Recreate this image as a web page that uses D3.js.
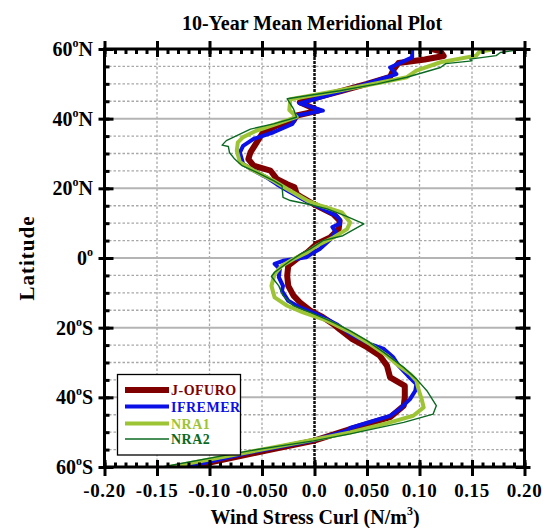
<!DOCTYPE html>
<html><head><meta charset="utf-8">
<script src="https://cdn.jsdelivr.net/npm/d3@7"></script>
<style>
body{margin:0;background:#fff;}
svg{display:block;}
text{font-family:"Liberation Serif","Times New Roman",serif;font-weight:bold;}
</style></head>
<body><svg id="c" width="547" height="528"></svg>
<script>
// ---- data ----
const title = "10-Year Mean Meridional Plot";
const seriesNames = ["J-OFURO", "IFREMER", "NRA1", "NRA2"];
const seriesColors = ["#800000", "#0a10e6", "#9dc435", "#0b6a22"];
const seriesWidths = [6, 4, 4, 1.4];
const xTicks = [-0.2, -0.15, -0.1, -0.05, 0, 0.05, 0.1, 0.15, 0.2];
const xTickLabels = ["-0.20", "-0.15", "-0.10", "-0.050", "0.0", "0.050", "0.10", "0.15", "0.20"];
const yTicks = [60, 40, 20, 0, -20, -40, -60];
const yTickNums = ["60", "40", "20", "0", "20", "40", "60"];
const yTickHemis = ["N", "N", "N", "", "S", "S", "S"];
// [latitude, wind stress curl]
const jofuro = [[60,0.112],[59.3,0.12],[58,0.123],[57,0.105],[56,0.08],[54,0.075],[52,0.072],[50,0.05],[48,0.026],[46,0.001],[44.7,-0.014],[42.3,0.004],[40.9,-0.017],[39.4,-0.02],[38,-0.036],[36.1,-0.049],[33.2,-0.055],[30.3,-0.061],[28.4,-0.063],[26.5,-0.058],[25.1,-0.042],[22.7,-0.036],[21.2,-0.026],[20.3,-0.019],[18.4,-0.017],[17.4,-0.012],[15.5,-0.001],[12.6,0.018],[10.7,0.024],[8.3,0.023],[5.9,0.015],[4,0.002],[1.6,-0.007],[-0.3,-0.017],[-2.2,-0.025],[-5.1,-0.026],[-8,-0.025],[-10.8,-0.02],[-12.7,-0.014],[-15.1,-0.004],[-17,0.008],[-19,0.018],[-20.5,0.024],[-23.3,0.036],[-25.6,0.05],[-28,0.062],[-30.9,0.069],[-34.3,0.072],[-36.7,0.086],[-40,0.086],[-42.4,0.085],[-45.7,0.072],[-49.1,0.034],[-52.5,-0.001],[-55.3,-0.046],[-58.7,-0.1],[-60,-0.12]];
const ifremer = [[60,0.093],[57.6,0.093],[54.7,0.072],[52.8,0.078],[50,0.049],[48,0.027],[46,0.005],[44.4,-0.014],[42.3,0.008],[40.9,-0.017],[38.5,-0.021],[36.1,-0.039],[34.2,-0.058],[32.2,-0.068],[30.3,-0.071],[27,-0.068],[25.1,-0.058],[23.2,-0.046],[21.2,-0.036],[18.9,-0.023],[16.9,-0.011],[15,0.002],[12.1,0.021],[11,0.024],[9.8,0.024],[8.9,0.017],[7.5,0.02],[5.3,0.015],[2.6,0.005],[1,-0.004],[0.2,-0.008],[-0.8,-0.03],[-1.7,-0.038],[-3.2,-0.033],[-5.5,-0.034],[-8,-0.03],[-9.4,-0.031],[-12.3,-0.025],[-14.2,-0.014],[-16.1,0.002],[-19,0.021],[-21.8,0.034],[-24.7,0.053],[-26.1,0.066],[-28.5,0.075],[-30.9,0.08],[-33.8,0.089],[-36.2,0.097],[-38.1,0.096],[-40.5,0.091],[-43.4,0.081],[-45.3,0.072],[-48.8,0.034],[-49.6,0.031],[-52.5,-0.003],[-55.8,-0.061],[-59.1,-0.109],[-60,-0.128]];
const nra1 = [[60,0.172],[59.2,0.157],[58.1,0.154],[56.2,0.12],[53.8,0.097],[51.9,0.088],[50,0.057],[48,0.022],[45.6,-0.023],[42.5,-0.024],[40.5,-0.017],[38.5,-0.036],[36.6,-0.055],[34.7,-0.068],[33.2,-0.073],[30.8,-0.074],[27.5,-0.071],[25.1,-0.058],[22.2,-0.039],[19.8,-0.026],[16.5,-0.007],[15,0.006],[13.1,0.026],[10.2,0.034],[8.3,0.031],[5.9,0.018],[3.5,0.002],[1.6,-0.007],[-0.3,-0.02],[-2.2,-0.031],[-4.6,-0.038],[-8,-0.041],[-11.3,-0.038],[-13.7,-0.026],[-15.6,-0.011],[-18,0.012],[-21.3,0.034],[-24.7,0.053],[-28,0.069],[-30.4,0.078],[-33.3,0.091],[-35.2,0.097],[-37.6,0.099],[-40.5,0.102],[-42.9,0.104],[-45.3,0.094],[-47.2,0.072],[-50.1,0.034],[-52.2,-0.001],[-55.6,-0.061],[-60,-0.138]];
const nra2 = [[60,0.2],[59,0.177],[58.1,0.173],[57.1,0.148],[56.6,0.15],[55.8,0.125],[54.7,0.12],[51.9,0.088],[50,0.06],[48,0.024],[45.7,-0.026],[42.8,-0.02],[40.4,-0.017],[38.5,-0.039],[37,-0.061],[35.1,-0.074],[33.7,-0.084],[32.4,-0.088],[32,-0.082],[30.3,-0.081],[28.4,-0.076],[26.5,-0.069],[24.6,-0.055],[22.2,-0.039],[20.8,-0.031],[17.4,-0.03],[16.5,-0.023],[15.5,-0.007],[14.1,0.012],[12,0.03],[9.8,0.047],[6.4,0.027],[5,0.008],[2.6,-0.004],[1.2,-0.013],[-0.8,-0.023],[-4.1,-0.038],[-5.3,-0.041],[-8,-0.034],[-10.8,-0.03],[-13.7,-0.02],[-15.6,-0.004],[-18.5,0.018],[-20.9,0.034],[-23.7,0.05],[-27.1,0.066],[-31.4,0.085],[-34.7,0.097],[-38.1,0.107],[-42.4,0.116],[-44.8,0.113],[-47.2,0.085],[-50.5,0.034],[-52.5,-0.001],[-55.3,-0.061],[-60,-0.145]];
const allSeries = [jofuro, ifremer, nra1, nra2];

// ---- layout ----
const L = 104.5, R = 524.5, T = 49, B = 467;
const svg = d3.select("#c");
const x = d3.scaleLinear().domain([-0.2, 0.2]).range([L, R]);
const y = d3.scaleLinear().domain([-60, 60]).range([B, T]);

// grid
const minorX = d3.range(-0.15, 0.2001, 0.05).filter(v => Math.abs(v) > 1e-9);
const gridY = d3.range(-55, 56, 5);
const g = svg.append("g");
g.selectAll("line.vg").data(minorX).join("line")
  .attr("x1", d => x(d)).attr("x2", d => x(d)).attr("y1", T).attr("y2", B)
  .attr("stroke", "#a8a8a8").attr("stroke-width", 1.3).attr("stroke-dasharray", "2.5,2");
g.selectAll("line.hg").data(gridY).join("line")
  .attr("x1", L).attr("x2", R).attr("y1", d => y(d)).attr("y2", d => y(d))
  .attr("stroke", d => d % 20 === 0 ? "#b4b4b4" : "#a8a8a8")
  .attr("stroke-width", d => d % 20 === 0 ? 2 : 1.3)
  .attr("stroke-dasharray", d => d % 20 === 0 ? null : "2.5,2");
// zero line
g.append("line").attr("x1", x(0)).attr("x2", x(0)).attr("y1", T).attr("y2", B)
  .attr("stroke", "#111").attr("stroke-width", 2.5).attr("stroke-dasharray", "3,1");

// curves
svg.append("clipPath").attr("id", "clip").append("rect")
  .attr("x", L).attr("y", T).attr("width", R - L).attr("height", B - T);
const line = d3.line().x(d => x(d[1])).y(d => y(d[0]));
const cg = svg.append("g").attr("clip-path", "url(#clip)");
allSeries.forEach((s, i) => {
  cg.append("path").datum(s).attr("d", line).attr("fill", "none")
    .attr("stroke", seriesColors[i]).attr("stroke-width", seriesWidths[i])
    .attr("stroke-linejoin", "round");
});

// axes (ticks)
function styleAxis(sel) {
  sel.select(".domain").remove();
  sel.selectAll("line").attr("stroke", "#000").attr("stroke-width", 3);
  sel.selectAll("text").remove();
}
const minorXT = d3.range(-0.2, 0.2001, 0.01);
const minorYT = d3.range(-60, 61, 5);
// bottom
svg.append("g").attr("transform", `translate(0,${B})`).call(d3.axisBottom(x).tickValues(xTicks).tickSize(9)).call(styleAxis);
svg.append("g").attr("transform", `translate(0,${B})`).call(d3.axisTop(x).tickValues(xTicks).tickSize(7)).call(styleAxis);
svg.append("g").attr("transform", `translate(0,${B})`).call(d3.axisTop(x).tickValues(minorXT).tickSize(4.5)).call(styleAxis);
// top
svg.append("g").attr("transform", `translate(0,${T})`).call(d3.axisTop(x).tickValues(xTicks).tickSize(8)).call(styleAxis);
svg.append("g").attr("transform", `translate(0,${T})`).call(d3.axisBottom(x).tickValues(xTicks).tickSize(8)).call(styleAxis);
svg.append("g").attr("transform", `translate(0,${T})`).call(d3.axisBottom(x).tickValues(minorXT).tickSize(5)).call(styleAxis);
// left
svg.append("g").attr("transform", `translate(${L},0)`).call(d3.axisLeft(y).tickValues(yTicks).tickSize(6)).call(styleAxis);
svg.append("g").attr("transform", `translate(${L},0)`).call(d3.axisRight(y).tickValues(yTicks).tickSize(9)).call(styleAxis);
svg.append("g").attr("transform", `translate(${L},0)`).call(d3.axisRight(y).tickValues(minorYT).tickSize(5)).call(styleAxis);
// right
svg.append("g").attr("transform", `translate(${R},0)`).call(d3.axisRight(y).tickValues(yTicks).tickSize(6)).call(styleAxis);
svg.append("g").attr("transform", `translate(${R},0)`).call(d3.axisLeft(y).tickValues(yTicks).tickSize(9)).call(styleAxis);
svg.append("g").attr("transform", `translate(${R},0)`).call(d3.axisLeft(y).tickValues(minorYT).tickSize(5)).call(styleAxis);

// frame
svg.append("rect").attr("x", L).attr("y", T).attr("width", R - L).attr("height", B - T)
  .attr("fill", "none").attr("stroke", "#000").attr("stroke-width", 3);

// tick labels
svg.append("g").selectAll("text").data(xTicks).join("text")
  .attr("x", d => x(d)).attr("y", 497).attr("text-anchor", "middle")
  .attr("font-size", 19).attr("letter-spacing", 0.6).text((d, i) => xTickLabels[i]);
const yl = svg.append("g").selectAll("text").data(yTicks).join("text")
  .attr("x", 93).attr("y", d => y(d) + 7).attr("text-anchor", "end").attr("font-size", 20);
yl.each(function(d, i) {
  const t = d3.select(this);
  t.append("tspan").text(yTickNums[i]);
  t.append("tspan").attr("font-size", 12).attr("dy", -9).text("o");
  if (yTickHemis[i]) t.append("tspan").attr("dy", 9).text(yTickHemis[i]);
});

// titles
svg.append("text").attr("x", 312).attr("y", 30).attr("text-anchor", "middle")
  .attr("font-size", 20).text(title);
const xt = svg.append("text").attr("x", 315).attr("y", 524).attr("text-anchor", "middle").attr("font-size", 20);
xt.append("tspan").text("Wind Stress Curl (N/m");
xt.append("tspan").attr("font-size", 12).attr("dy", -9).text("3");
xt.append("tspan").attr("dy", 9).text(")");
svg.append("text").attr("transform", "translate(34,258) rotate(-90)").attr("text-anchor", "middle")
  .attr("font-size", 21).attr("letter-spacing", 1).text("Latitude");

// legend
const lg = svg.append("g");
lg.append("rect").attr("x", 117.5).attr("y", 374.5).attr("width", 123).attr("height", 80.5)
  .attr("fill", "#fff").attr("stroke", "#000").attr("stroke-width", 1.3);
const legY = [390, 406.5, 423.5, 439];
seriesNames.forEach((n, i) => {
  lg.append("line").attr("x1", 125).attr("x2", 169).attr("y1", legY[i]).attr("y2", legY[i])
    .attr("stroke", seriesColors[i]).attr("stroke-width", seriesWidths[i]);
  lg.append("text").attr("x", 171).attr("y", legY[i] + 5).attr("font-size", 14)
    .attr("letter-spacing", 0.5).attr("fill", seriesColors[i]).text(n);
});
</script></body></html>
